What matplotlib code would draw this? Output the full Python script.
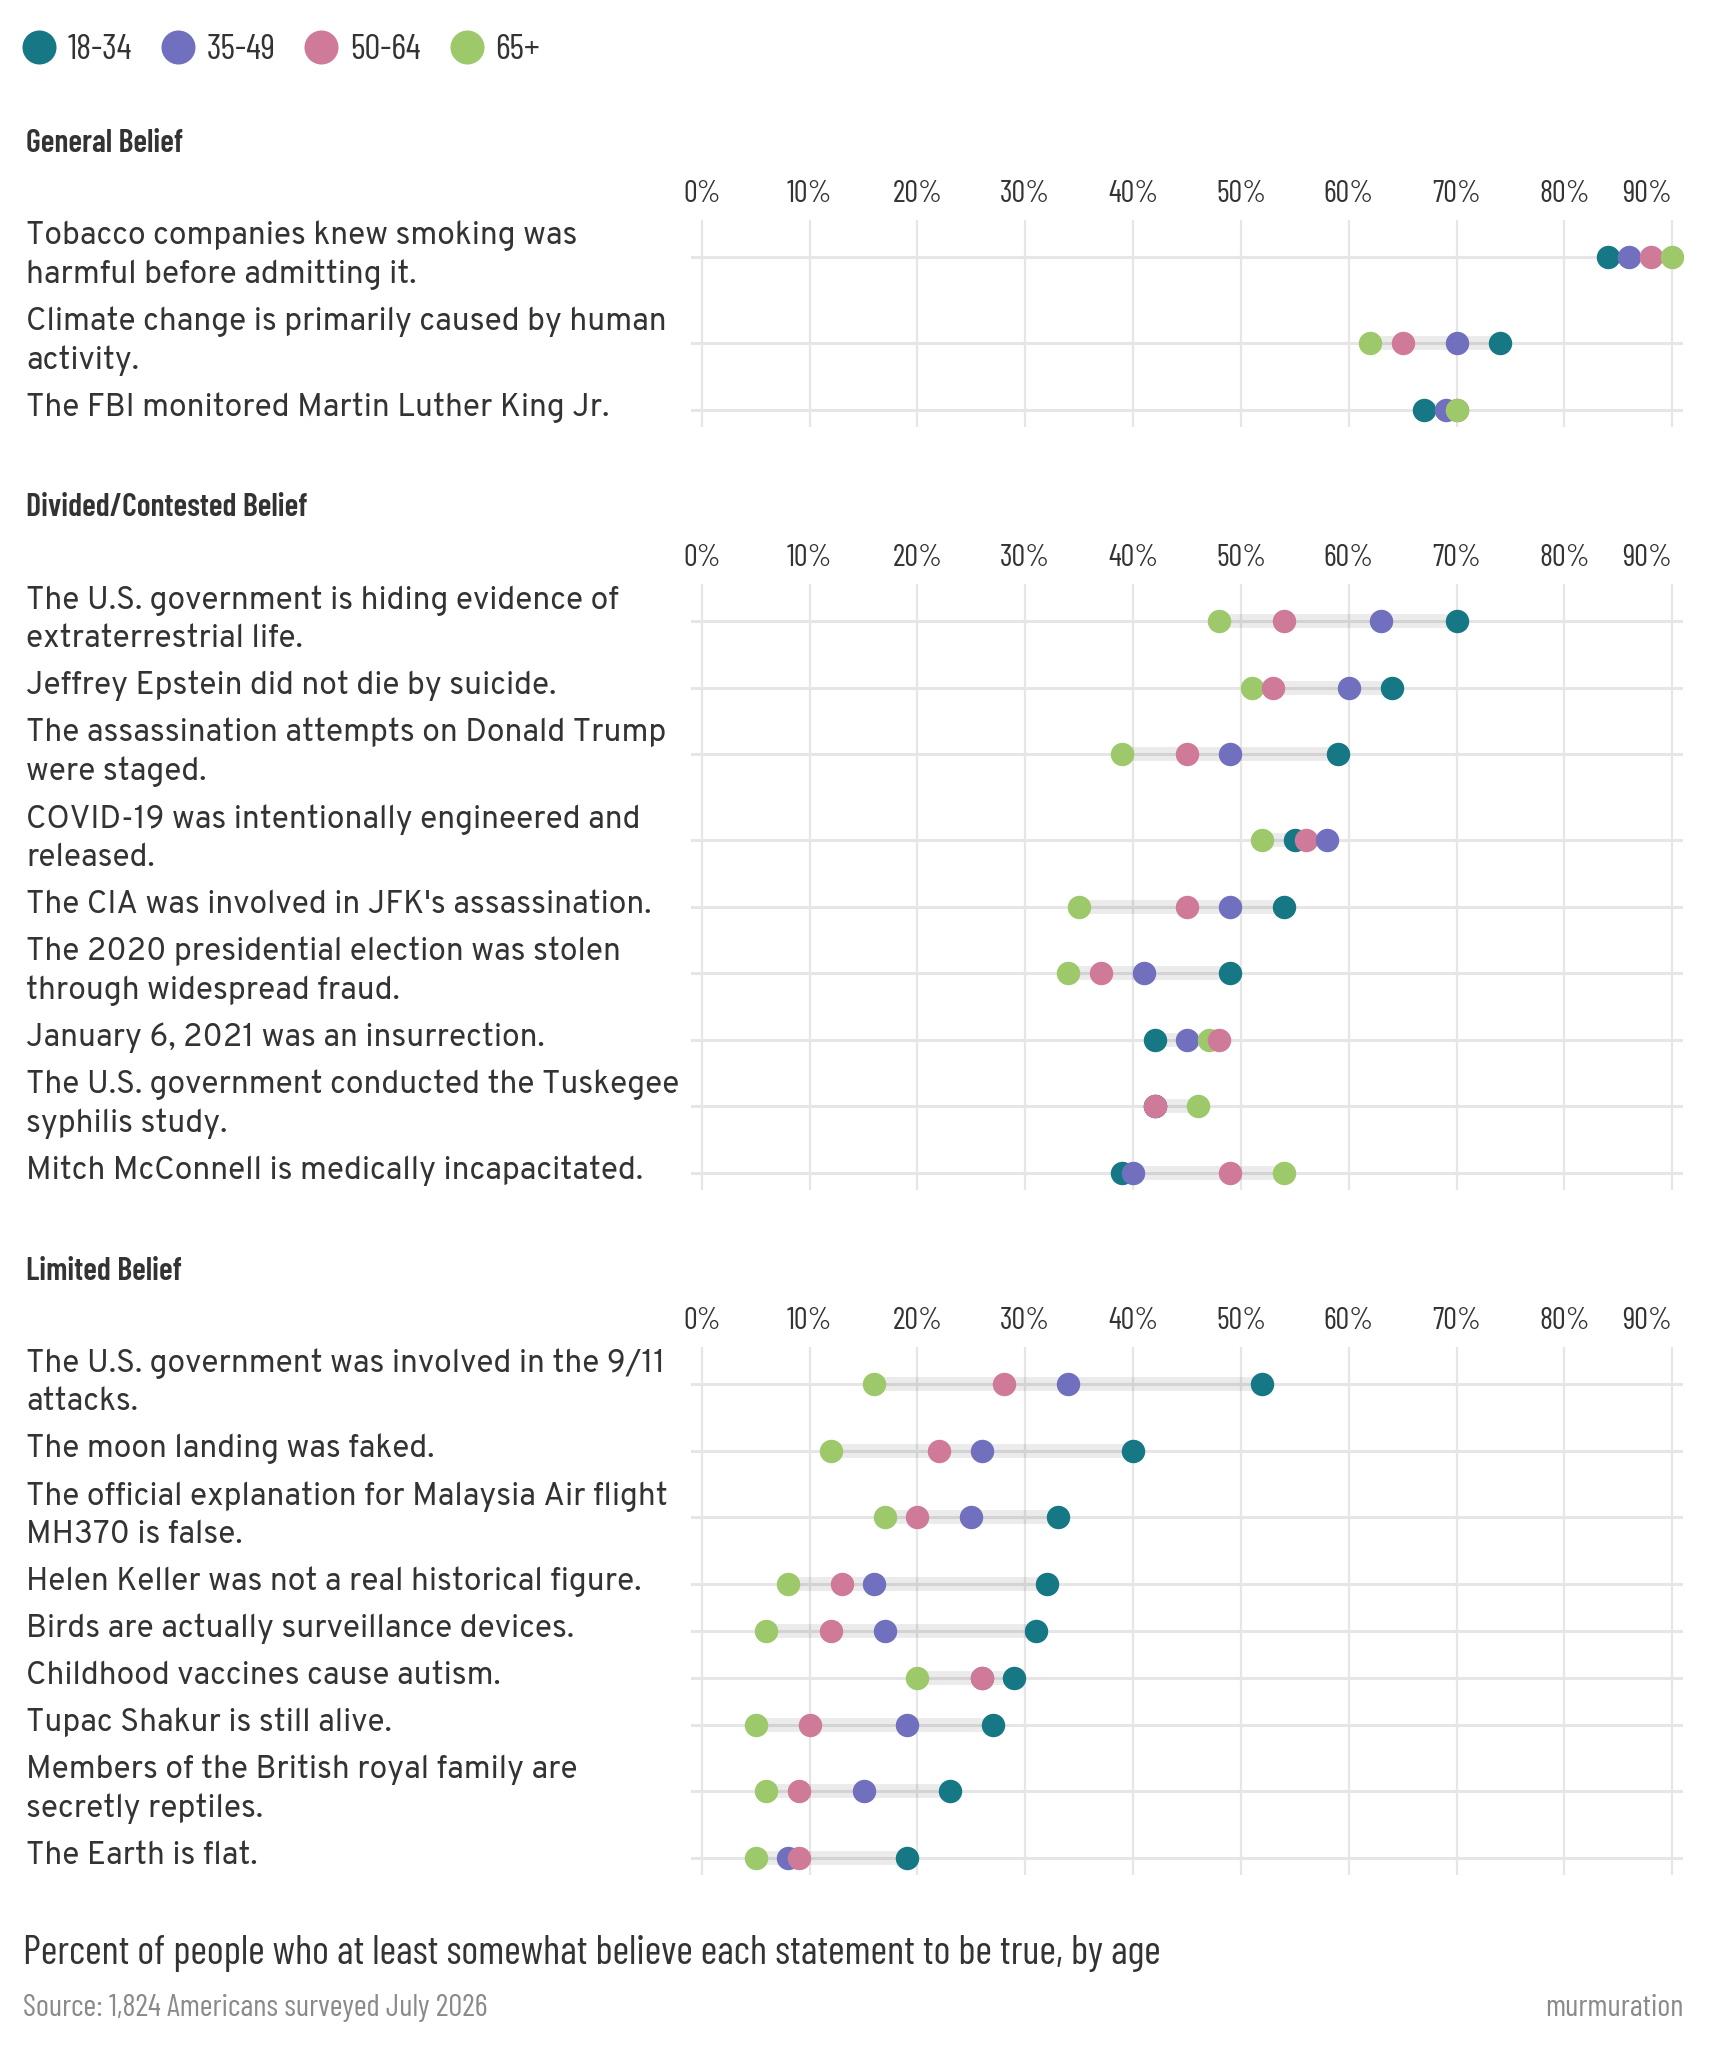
import numpy as np
import matplotlib.pyplot as plt
from matplotlib import transforms
from matplotlib.lines import Line2D

W, H = 1710, 2048

age_groups = ['18-34', '35-49', '50-64', '65+']
age_colors = ['#177885', '#7070be', '#d07a9a', '#9dc96a']

sections = ['General Belief', 'Divided/Contested Belief', 'Limited Belief']
section_sizes = [3, 9, 9]

statements = [
    'Tobacco companies knew smoking was\nharmful before admitting it.',
    'Climate change is primarily caused by human\nactivity.',
    'The FBI monitored Martin Luther King Jr.',
    'The U.S. government is hiding evidence of\nextraterrestrial life.',
    'Jeffrey Epstein did not die by suicide.',
    'The assassination attempts on Donald Trump\nwere staged.',
    'COVID-19 was intentionally engineered and\nreleased.',
    "The CIA was involved in JFK's assassination.",
    'The 2020 presidential election was stolen\nthrough widespread fraud.',
    'January 6, 2021 was an insurrection.',
    'The U.S. government conducted the Tuskegee\nsyphilis study.',
    'Mitch McConnell is medically incapacitated.',
    'The U.S. government was involved in the 9/11\nattacks.',
    'The moon landing was faked.',
    'The official explanation for Malaysia Air flight\nMH370 is false.',
    'Helen Keller was not a real historical figure.',
    'Birds are actually surveillance devices.',
    'Childhood vaccines cause autism.',
    'Tupac Shakur is still alive.',
    'Members of the British royal family are\nsecretly reptiles.',
    'The Earth is flat.',
]

v_18_34 = [84, 74, 67, 70, 64, 59, 55, 54, 49, 42, 42, 39, 52, 40, 33, 32, 31, 29, 27, 23, 19]
v_35_49 = [86, 70, 69, 63, 60, 49, 58, 49, 41, 45, 42, 40, 34, 26, 25, 16, 17, 26, 19, 15, 8]
v_50_64 = [88, 65, 70, 54, 53, 45, 56, 45, 37, 48, 42, 49, 28, 22, 20, 13, 12, 26, 10, 9, 9]
v_65_plus = [90, 62, 70, 48, 51, 39, 52, 35, 34, 47, 46, 54, 16, 12, 17, 8, 6, 20, 5, 6, 5]

ticks = list(range(0, 100, 10))
tick_labels = [f'{t}%' for t in ticks]

narrow = ['Barlow Condensed', 'IBM Plex Sans Condensed', 'DejaVu Sans']
plt.rcParams['font.family'] = ['Overpass', 'Noto Sans', 'DejaVu Sans']

fig = plt.figure(figsize=(W / 100, H / 100), dpi=100)
fig.patch.set_facecolor('white')


def fx(px):
    return px / W


def fy(px):
    return 1 - px / H


vals = np.array([v_18_34, v_35_49, v_50_64, v_65_plus])

y0 = 214
start = 0
for sec, n in zip(sections, section_sizes):
    labels = statements[start:start + n]
    v = vals[:, start:start + n]
    heights = np.array([86 if '\n' in s else 47 for s in labels])
    total = heights.sum()
    centers = np.cumsum(heights) - heights / 2

    ax = fig.add_axes([fx(691), fy(y0 + total - 6), fx(1683 - 691), (total - 12) / H])
    ax.set_xlim(-1, 91)
    ax.set_ylim(total - 6, 6)
    for s in ax.spines.values():
        s.set_visible(False)
    ax.set_yticks([])
    ax.xaxis.tick_top()
    ax.set_xticks(ticks)
    ax.set_xticklabels(tick_labels, fontfamily=narrow, fontsize=22, color='#333333')
    ax.tick_params(axis='x', length=0, pad=8.5)
    # last label would run past the edge, keep it inside
    ax.xaxis.get_major_ticks()[-1].label2.set_horizontalalignment('right')
    ax.grid(axis='x', color='#e6e6e6', lw=1.6)
    ax.set_axisbelow(True)

    trans = transforms.blended_transform_factory(fig.transFigure, ax.transData)
    for i, c in enumerate(centers):
        ax.axhline(c, color='#e6e6e6', lw=2.2, zorder=0.5)
        row = v[:, i]
        ax.hlines(c, row.min(), row.max(), color='black', alpha=0.08, lw=10, zorder=1)
        # rightmost dot on top
        order = sorted(range(4), key=lambda k: (row[k], k))
        for rank, k in enumerate(order):
            ax.scatter(row[k], c, s=285, color=age_colors[k], linewidths=0, zorder=3 + rank)
        ax.text(fx(26), c - 2, labels[i], transform=trans, va='center', ha='left',
                fontsize=22.9, color='#333333', linespacing=1.34)

    fig.text(fx(26), fy(y0 - 70), sec, fontfamily=narrow, fontweight='semibold',
             fontsize=23, color='#333333', va='center', ha='left')

    start += n
    y0 += total + 145

handles = [Line2D([], [], ls='none', marker='o', markersize=24.5, markerfacecolor=c,
                  markeredgewidth=0) for c in age_colors]
fig.legend(handles, age_groups, loc='center left', bbox_to_anchor=(fx(21), fy(50)),
           ncol=4, frameon=False, handlelength=1, handletextpad=0.31, columnspacing=0.8,
           borderpad=0, borderaxespad=0, prop={'family': narrow, 'size': 25.5},
           labelcolor='#333333')

fig.text(fx(23), fy(1954), 'Percent of people who at least somewhat believe each statement to be true, by age',
         fontfamily=narrow, fontsize=29, color='#333333', va='center', ha='left')
fig.text(fx(23), fy(2008), 'Source: 1,824 Americans surveyed July 2026',
         fontfamily=narrow, fontsize=22.4, color='#8a8a8a', va='center', ha='left')
fig.text(fx(1683), fy(2008), 'murmuration',
         fontfamily=narrow, fontsize=22.4, color='#8a8a8a', va='center', ha='right')

fig.savefig('out.png', dpi=100, facecolor='white')
